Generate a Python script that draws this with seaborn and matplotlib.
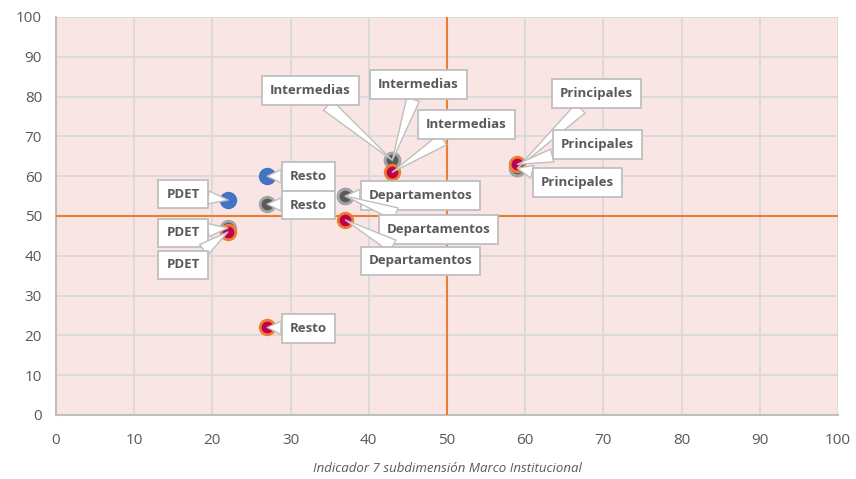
import matplotlib
matplotlib.use("Agg")
import matplotlib.pyplot as plt
import seaborn as sns
import pandas as pd

# Categories of municipalities
categorias = ["PDET", "Resto", "Departamentos", "Intermedias", "Principales"]

# Three series (x = indicador 7, y = subdimension score)
azul_x = [22, 27, 37, 43, 59]
azul_y = [54, 60, 55, 64, 62]
gris_x = [22, 27, 37, 43, 59]
gris_y = [47, 53, 55, 64, 62]
rojo_x = [22, 27, 37, 43, 59]
rojo_y = [46, 22, 49, 61, 63]

eje_ticks = [0, 10, 20, 30, 40, 50, 60, 70, 80, 90, 100]
x_titulo = "Indicador 7 subdimensión Marco Institucional"

df = pd.concat([
    pd.DataFrame({"cat": categorias, "x": azul_x, "y": azul_y, "serie": "azul"}),
    pd.DataFrame({"cat": categorias, "x": gris_x, "y": gris_y, "serie": "gris"}),
    pd.DataFrame({"cat": categorias, "x": rojo_x, "y": rojo_y, "serie": "rojo"}),
])

estilos = {
    "azul": dict(color="#4472C4", edgecolor="#4472C4"),
    "gris": dict(color="#5A5A5A", edgecolor="#A5A5A5"),
    "rojo": dict(color="#C0004F", edgecolor="#ED7D31"),
}

# label offsets in pixels (dx, dy) for each series/category
offsets = {
    "azul": {"PDET": (-45, 6), "Resto": (41, 0), "Departamentos": (75, 1),
             "Intermedias": (-82, 70), "Principales": (79, 75)},
    "gris": {"PDET": (-45, -5), "Resto": (41, -1), "Departamentos": (93, -33),
             "Intermedias": (26, 76), "Principales": (60, -14)},
    "rojo": {"PDET": (-45, -33), "Resto": (41, -1), "Departamentos": (75, -41),
             "Intermedias": (74, 48), "Principales": (80, 20)},
}

sns.set_style("white")
plt.rcParams["font.family"] = ["Open Sans", "DejaVu Sans"]

fig = plt.figure(figsize=(8.56, 4.79), dpi=100)
ax = fig.add_axes([56 / 856, 1 - 415 / 479, (838 - 56) / 856, (415 - 17) / 479])
ax.set_facecolor("#F9E5E3")

for serie, sub in df.groupby("serie", sort=False):
    st = estilos[serie]
    sns.scatterplot(data=sub, x="x", y="y", ax=ax, s=110, color=st["color"],
                    edgecolor=st["edgecolor"], linewidth=2, zorder=4, legend=False)

for _, r in df.iterrows():
    dx, dy = offsets[r["serie"]][r["cat"]]
    ax.annotate(r["cat"], xy=(r["x"], r["y"]), xytext=(dx, dy),
                textcoords="offset pixels", ha="center", va="center",
                fontsize=9.5, fontweight="bold", color="#595959", zorder=6,
                bbox=dict(boxstyle="square,pad=0.6", fc="white", ec="#BFBFBF", lw=1.3),
                arrowprops=dict(arrowstyle="wedge,tail_width=1.0,shrink_factor=0.5",
                                fc="white", ec="#BFBFBF", lw=1.0, shrinkA=0, shrinkB=0))

ax.axvline(50, color="#ED7D31", lw=1.5, zorder=3)
ax.axhline(50, color="#ED7D31", lw=1.5, zorder=3)

ax.set_xlim(0, 100)
ax.set_ylim(0, 100)
ax.set_xticks(eje_ticks)
ax.set_yticks(eje_ticks)
ax.grid(True, color="#D9D9D9", lw=1.3, zorder=0)
ax.set_axisbelow(True)
ax.tick_params(axis="x", length=0, labelsize=11, labelcolor="#595959", pad=13)
ax.tick_params(axis="y", length=0, labelsize=11, labelcolor="#595959", pad=10)
for s in ["top", "right"]:
    ax.spines[s].set_visible(False)
for s in ["left", "bottom"]:
    ax.spines[s].set_color("#BFBFBF")
    ax.spines[s].set_linewidth(1.5)

ax.set_xlabel(x_titulo, fontsize=9.5, style="italic", color="#595959", labelpad=10)
ax.set_ylabel("")

fig.savefig("out.png", dpi=100)
